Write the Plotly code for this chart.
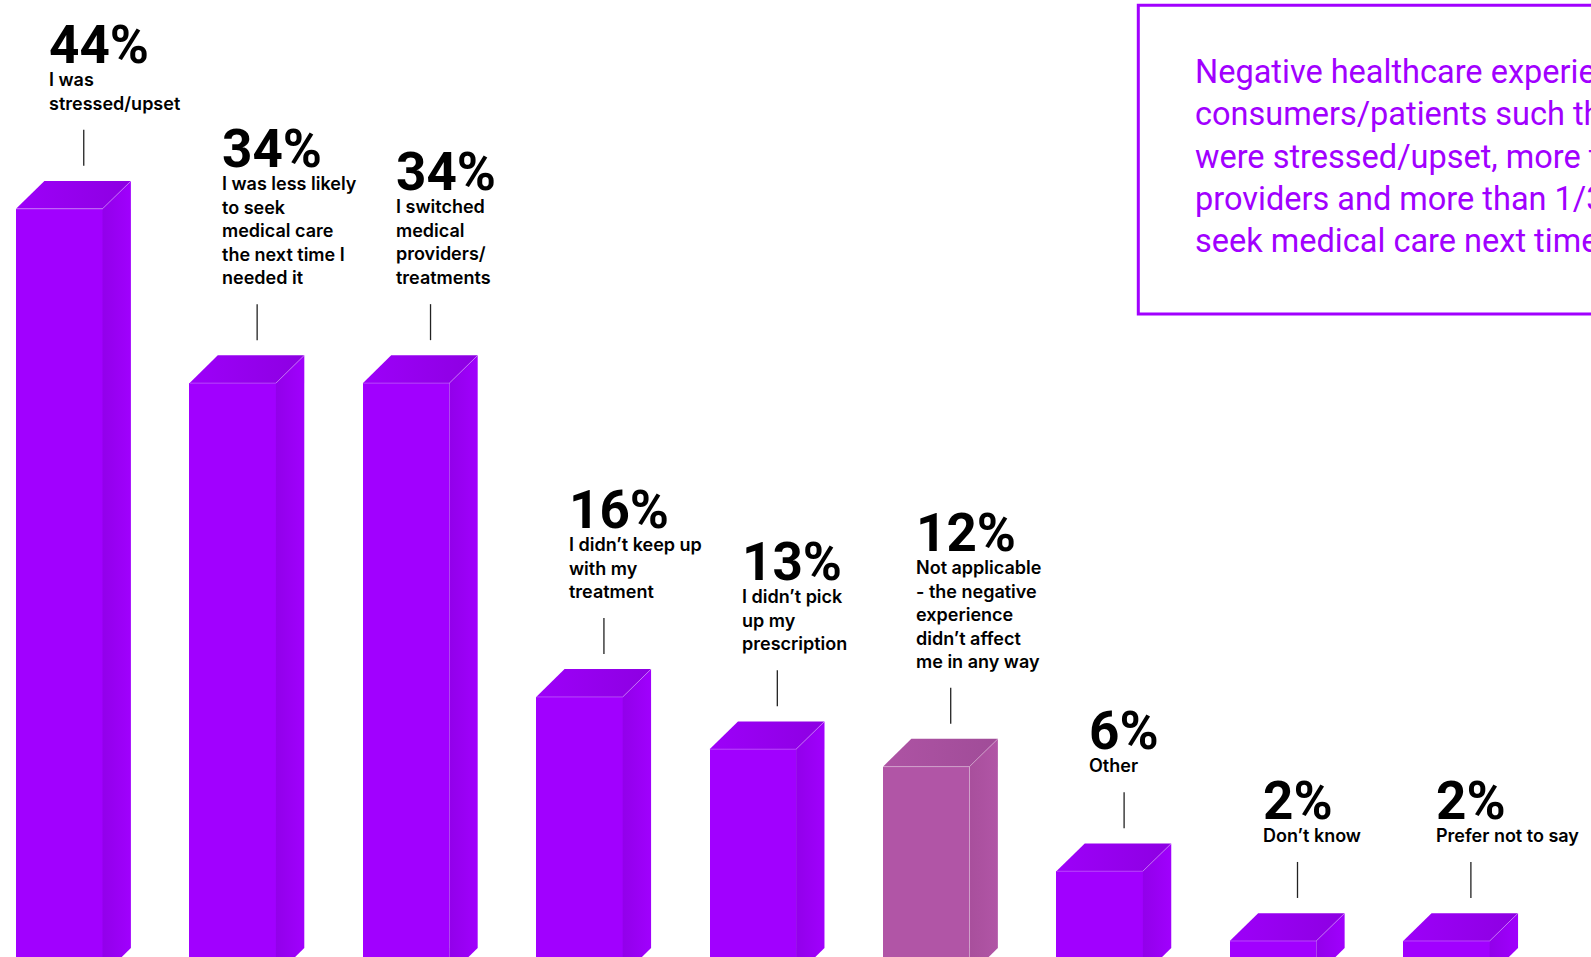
import plotly.graph_objects as go

# ---- data -------------------------------------------------------------
labels = [
    "I was<br>stressed/upset",
    "I was less likely<br>to seek<br>medical care<br>the next time I<br>needed it",
    "I switched<br>medical<br>providers/<br>treatments",
    "I didn\u2019t keep up<br>with my<br>treatment",
    "I didn\u2019t pick<br>up my<br>prescription",
    "Not applicable<br>- the negative<br>experience<br>didn\u2019t affect<br>me in any way",
    "Other",
    "Don\u2019t know",
    "Prefer not to say",
]
values = [44, 34, 34, 16, 13, 12, 6, 2, 2]
highlight = [False, False, False, False, False, True, False, False, False]

callout_lines = [
    "Negative healthcare experiences affected",
    "consumers/patients such that more than 40%",
    "were stressed/upset, more than 1/3 switched",
    "providers and more than 1/3 were less likely to",
    "seek medical care next time they needed it",
]

# ---- styling ----------------------------------------------------------
W, H = 1591, 957
X_RANGE = [-0.3417, 8.834]
Y_RANGE = [1.08, 55.98]
PX_X = W / (X_RANGE[1] - X_RANGE[0])   # pixels per category step
PX_Y = H / (Y_RANGE[1] - Y_RANGE[0])   # pixels per percentage point

BAR_W = 86.5 / PX_X          # front face width
DX = 28.4 / PX_X             # depth offset (x)
DY = 27.8 / PX_Y             # depth offset (y)

PALETTE = {
    False: dict(front="#A100FF", top=["#9D00F9", "#8D00E2"], side=["#9200EA", "#A000FD"]),
    True: dict(front="#B155A6", top=["#AE53A4", "#A04C98"], side=["#A84F9C", "#B155A6"]),
}

LABEL_FONT = "Inter"
LABEL_SIZE = 18
PCT_STYLE = "font-family:Roboto;font-size:53px;font-weight:700"

x = list(range(len(values)))
fig = go.Figure()

# front faces
fig.add_trace(go.Bar(
    x=x, y=values, width=BAR_W,
    marker=dict(color=[PALETTE[h]["front"] for h in highlight], line=dict(width=0)),
    hoverinfo="skip", showlegend=False,
))

# top and side faces, built from each bar's value
for xi, v, h in zip(x, values, highlight):
    pal = PALETTE[h]
    xl, xr = xi - BAR_W / 2, xi + BAR_W / 2
    fig.add_trace(go.Scatter(
        x=[xl, xr, xr + DX, xl + DX, xl], y=[v, v, v + DY, v + DY, v],
        mode="lines", line=dict(width=0), fill="toself",
        fillgradient=dict(type="horizontal",
                          colorscale=[[0, pal["top"][0]], [1, pal["top"][1]]]),
        hoverinfo="skip", showlegend=False,
    ))
    fig.add_trace(go.Scatter(
        x=[xr, xr + DX, xr + DX, xr, xr], y=[0, DY, v + DY, v, 0],
        mode="lines", line=dict(width=0), fill="toself",
        fillgradient=dict(type="horizontal",
                          colorscale=[[0, pal["side"][0]], [1, pal["side"][1]]]),
        hoverinfo="skip", showlegend=False,
    ))
    # soft highlight along the front-top and top-side edges
    fig.add_trace(go.Scatter(
        x=[xl, xr, xr + DX], y=[v, v, v + DY],
        mode="lines", line=dict(width=1, color="rgba(255,255,255,0.28)"),
        hoverinfo="skip", showlegend=False,
    ))

shapes = []
annotations = []
for xi, v, lab in zip(x, values, labels):
    text_x = xi - 12.5 / PX_X
    # connector tick above each bar
    shapes.append(dict(
        type="line", xref="x", yref="y", ysizemode="pixel", yanchor=v,
        x0=xi + 24.5 / PX_X, x1=xi + 24.5 / PX_X, y0=43, y1=79,
        line=dict(color="#222222", width=1.3),
    ))
    # value headline followed by the answer text
    annotations.append(dict(
        x=text_x, y=v, xref="x", yref="y", xanchor="left", yanchor="bottom",
        yshift=93, showarrow=False, align="left",
        text=f"<span style='{PCT_STYLE}'>{v}%</span><br>{lab}",
        font=dict(family=LABEL_FONT, size=LABEL_SIZE, color="#000000", weight=600),
    ))

# callout box
shapes.append(dict(
    type="rect", xref="paper", yref="paper",
    x0=1138.3 / W, x1=1.05, y0=1 - 314 / H, y1=1 - 5.3 / H,
    line=dict(color="#A100FF", width=3), fillcolor="rgba(0,0,0,0)",
))
annotations.append(dict(
    x=1193 / W, y=1 - 51 / H, xref="paper", yref="paper",
    xanchor="left", yanchor="top", showarrow=False, align="left",
    text="<br>".join(callout_lines),
    font=dict(family="Roboto", size=32.5, color="#A100FF", weight=400),
))

fig.update_layout(
    width=W, height=H,
    margin=dict(l=0, r=0, t=0, b=0),
    paper_bgcolor="white", plot_bgcolor="white",
    xaxis=dict(range=X_RANGE, visible=False, fixedrange=True),
    yaxis=dict(range=Y_RANGE, visible=False, fixedrange=True),
    bargap=0, shapes=shapes, annotations=annotations,
    showlegend=False,
)

fig.write_html("out.html", config=dict(displayModeBar=False))
